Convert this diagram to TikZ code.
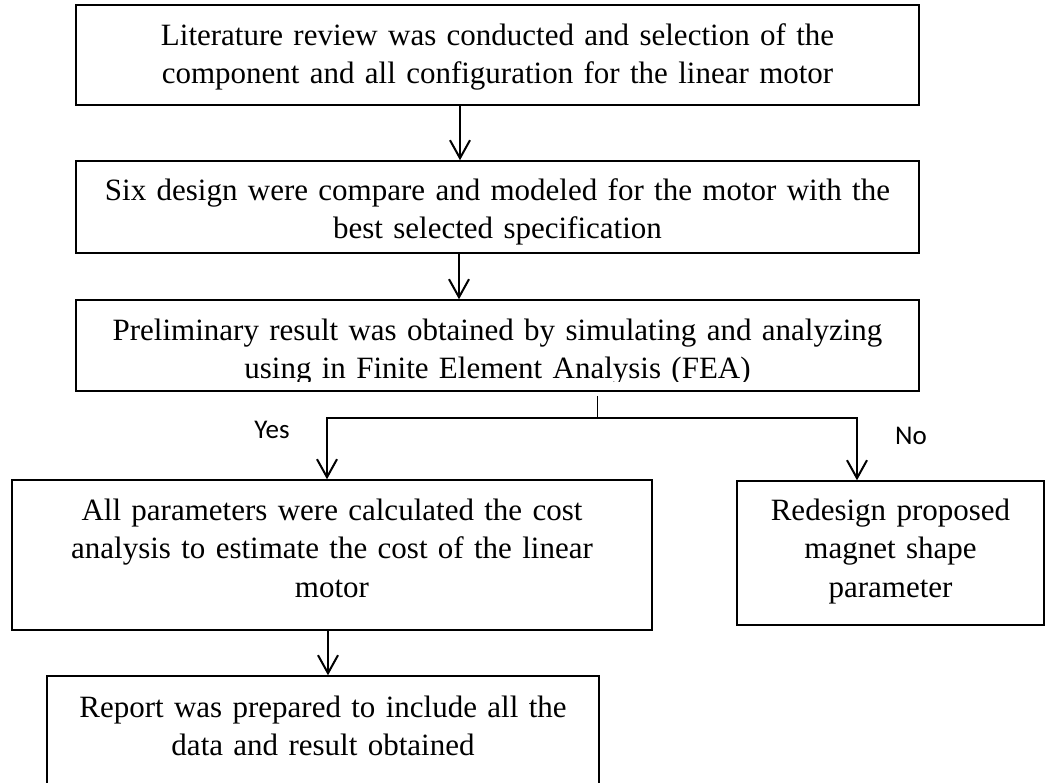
\documentclass[tikz,border=0pt]{standalone}
\usepackage{fontspec}
\setmainfont{Liberation Serif}
\newfontfamily\answerfont{Carlito}
\usetikzlibrary{arrows.meta}

\begin{document}
\begin{tikzpicture}[
  block/.style={rectangle, draw, line width=0.75pt, inner sep=0pt, align=center,
    font=\fontsize{15.5pt}{19.25pt}\selectfont},
  flow/.style={-{Straight Barb[length=9pt,width=10pt]}, line width=1pt},
  answer/.style={font=\answerfont\fontsize{13.5pt}{16pt}\selectfont},
  node distance=76pt
]
\useasboundingbox (-248.75pt,27.5pt) rectangle (274.25pt,-364pt);

\node[block, text width=421.5pt, text height=20pt, text depth=30pt] (review) {Literature review was conducted and selection of the\\component and all configuration for the linear motor};
\node[block, text width=421.5pt, text height=19.5pt, text depth=26.5pt, below of=review] (design) {Six design were compare and modeled for the motor with the\\best selected specification};
\node[block, minimum width=421.5pt, minimum height=45.5pt, below of=design, node distance=69.25pt] (fea) {};
% last line of this box is cut short by its frame
\begin{scope}
  \clip (fea.north west) rectangle ([yshift=5pt]fea.south east);
  \node[block, draw=none, text width=421.5pt, text height=20pt, text depth=25.5pt] (featext) at (fea) {Preliminary result was obtained by simulating and analyzing\\using in Finite Element Analysis (FEA)};
\end{scope}
\node[block, text width=320pt, text height=20pt, text depth=55pt, below of=fea, node distance=104.75pt, xshift=-82.75pt] (cost) {All parameters were calculated the cost\\analysis to estimate the cost of the linear\\motor};
\node[block, text width=153.5pt, text height=19.5pt, text depth=52.5pt, below of=fea, node distance=103.75pt, xshift=196.5pt] (redesign) {Redesign proposed\\magnet shape\\parameter};
\node[block, text width=276pt, text height=20.5pt, text depth=49.5pt, below of=cost, node distance=95.5pt, xshift=-4.5pt] (report) {Report was prepared to include all the\\data and result obtained};

\coordinate (split) at ([xshift=50.25pt,yshift=-13pt]fea.south);
\node[answer] (yes) at ([xshift=-163pt,yshift=-6pt]split) {Yes};
\node[answer] (no) at ([xshift=156.5pt,yshift=-9pt]split) {No};

\draw[flow] ([xshift=-18.75pt]review.south) -- ([xshift=-18.75pt]design.north);
\draw[flow] ([xshift=-19.25pt]design.south) -- ([xshift=-19.25pt]fea.north);
\draw[line width=0.5pt] ([xshift=50.25pt,yshift=-2pt]fea.south) -- (split);
\draw[flow] (split) -| ([xshift=-2.5pt]cost.north);
\draw[flow] (split) -| ([xshift=-16.75pt]redesign.north);
\draw[flow] ([xshift=-2pt]cost.south) -- ([xshift=-2pt]cost.south |- report.north);
\end{tikzpicture}
\end{document}
